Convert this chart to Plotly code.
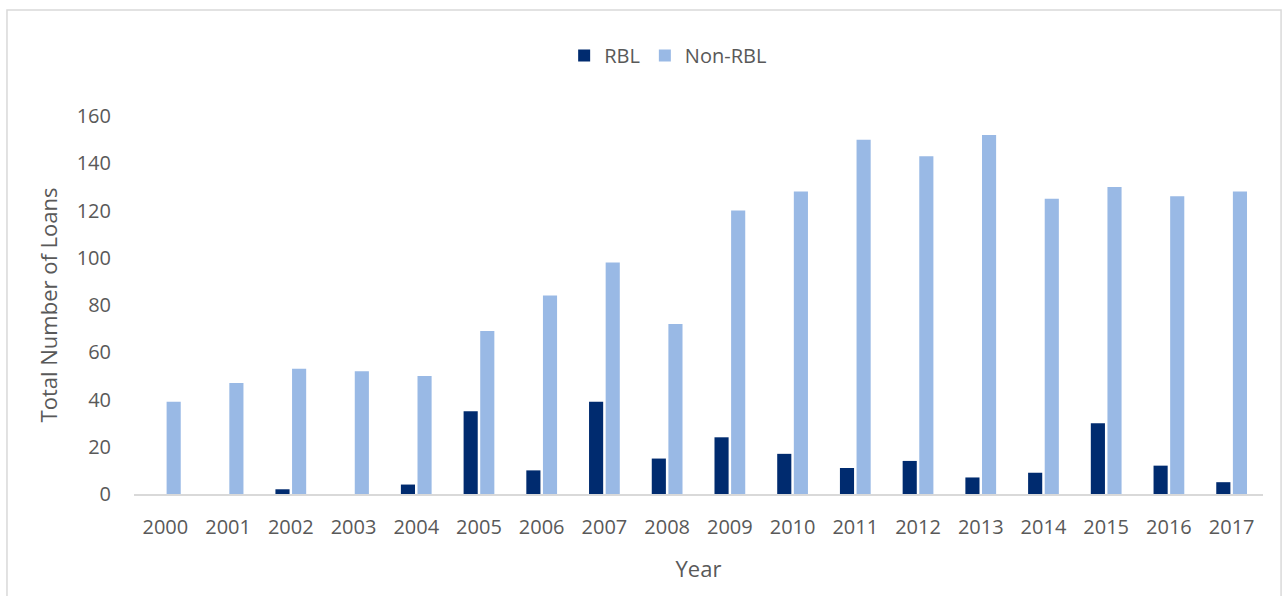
import plotly.graph_objects as go

years = [str(y) for y in range(2000, 2018)]
rbl = [0, 0, 2, 0, 4, 35, 10, 39, 15, 24, 17, 11, 14, 7, 9, 30, 12, 5]
non_rbl = [39, 47, 53, 52, 50, 69, 84, 98, 72, 120, 128, 150, 143, 152, 125, 130, 126, 128]
y_ticks = [0, 20, 40, 60, 80, 100, 120, 140, 160]

FONT = "Open Sans, Liberation Sans, sans-serif"
GREY = "#595959"

fig = go.Figure()
fig.add_trace(go.Bar(x=years, y=rbl, name="RBL", marker=dict(color="#002B6F", line=dict(width=0))))
fig.add_trace(go.Bar(x=years, y=non_rbl, name="Non-RBL", marker=dict(color="#99B9E5", line=dict(width=0))))

fig.update_layout(
    width=1284, height=596,
    margin=dict(l=134, r=21, t=116, b=102),
    paper_bgcolor="white", plot_bgcolor="white",
    barmode="group", bargap=0.47, bargroupgap=0.15,
    font=dict(family=FONT, color=GREY, size=20),
    legend=dict(orientation="h", x=0.381, y=1.16, xanchor="left", yanchor="middle",
                font=dict(size=20, color=GREY), traceorder="normal"),
    shapes=[dict(type="rect", xref="paper", yref="paper",
                 x0=-0.1125, x1=1.016, y0=-0.4, y1=1.2804,
                 line=dict(color="#D9D9D9", width=1.5), fillcolor="rgba(0,0,0,0)", layer="below")],
)
fig.update_xaxes(
    showline=True, linecolor="#D9D9D9", linewidth=1.5, showgrid=False,
    ticks="", ticklabelstandoff=14, tickfont=dict(size=20, color=GREY),
    title=dict(text="Year", font=dict(size=22, color=GREY), standoff=23),
)
fig.update_yaxes(
    range=[0, 160], tickvals=y_ticks, showline=False, showgrid=False, zeroline=False,
    ticks="", ticklabelstandoff=22, tickfont=dict(size=20, color=GREY),
    title=dict(text="Total Number of Loans", font=dict(size=22, color=GREY), standoff=12),
)

fig.write_html("out.html")
